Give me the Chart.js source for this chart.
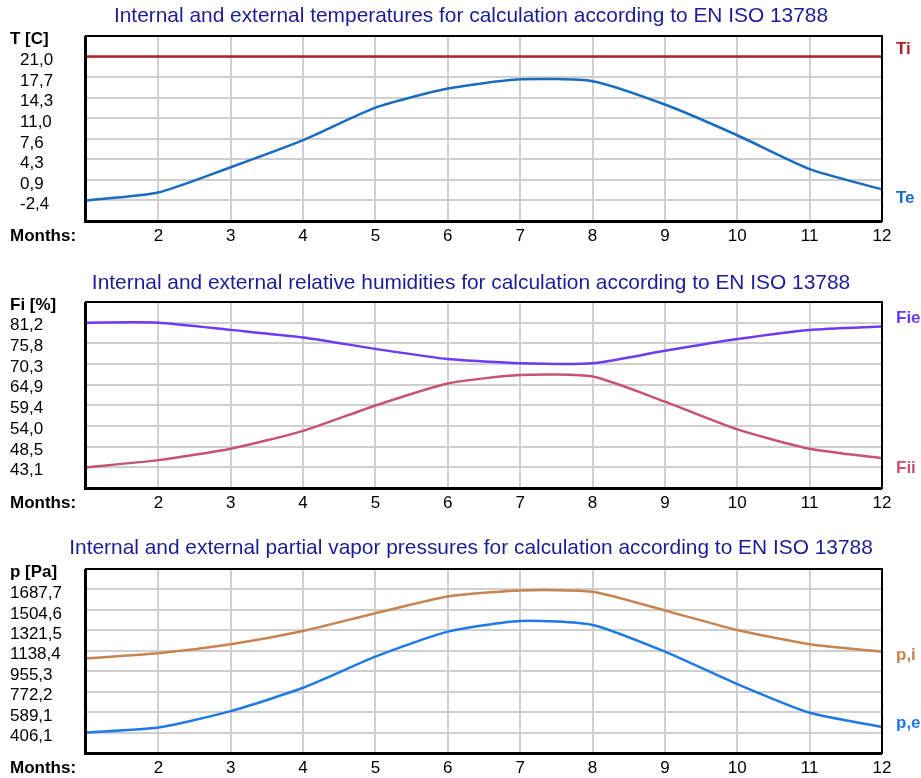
<!DOCTYPE html>
<html>
<head>
<meta charset="utf-8">
<script src="https://cdn.jsdelivr.net/npm/chart.js@4"></script>
<style>
  body { margin: 0; background: #ffffff; }
  .wrap { position: absolute; left: 0; width: 921px; }
  canvas { display: block; }
</style>
</head>
<body>
<div class="wrap" style="top:0px"><canvas id="tempChart" width="921" height="255"></canvas></div>
<div class="wrap" style="top:255px"><canvas id="humChart" width="921" height="265"></canvas></div>
<div class="wrap" style="top:520px"><canvas id="presChart" width="921" height="258"></canvas></div>
<script>
const months = [1, 2, 3, 4, 5, 6, 7, 8, 9, 10, 11, 12];

// temperatures
const tempTicks = [-2.4, 0.9, 4.3, 7.6, 11.0, 14.3, 17.7, 21.0];
const tempTi = [21.0, 21.0, 21.0, 21.0, 21.0, 21.0, 21.0, 21.0, 21.0, 21.0, 21.0, 21.0];
const tempTe = [-2.4, -1.1, 3.0, 7.4, 12.7, 15.8, 17.3, 17.0, 13.2, 8.2, 2.7, -0.6];

// relative humidities
const humTicks = [43.1, 48.5, 54.0, 59.4, 64.9, 70.3, 75.8, 81.2];
const humFie = [81.2, 81.2, 79.3, 77.3, 74.3, 71.6, 70.5, 70.5, 73.8, 76.9, 79.3, 80.2];
const humFii = [43.1, 45.0, 48.0, 52.7, 59.4, 65.2, 67.4, 67.0, 60.4, 53.1, 48.0, 45.5];

// partial vapor pressures
const presTicks = [406.1, 589.1, 772.2, 955.3, 1138.4, 1321.5, 1504.6, 1687.7];
const presPi = [1071, 1116, 1197, 1316, 1475, 1625, 1679, 1667, 1499, 1325, 1197, 1131];
const presPe = [406, 451, 598, 807, 1086, 1310, 1406, 1370, 1131, 840, 583, 457];

const FONT = "'Liberation Sans', Arial, sans-serif";

// draws the frame, the title and the text round the plot
const decorPlugin = {
    id: 'decor',
    afterDraw(chart, args, opts) {
        const ctx = chart.ctx;
        const area = chart.chartArea;
        const y = chart.scales.y;
        ctx.save();

        // sunken frame
        ctx.strokeStyle = '#000000';
        ctx.lineWidth = 2;
        ctx.strokeRect(area.left, area.top, area.right - area.left, area.bottom - area.top);
        ctx.lineWidth = 3;
        ctx.beginPath();
        ctx.moveTo(area.left - 0.5, area.top);
        ctx.lineTo(area.left - 0.5, area.bottom + 0.5);
        ctx.lineTo(area.right, area.bottom + 0.5);
        ctx.stroke();

        ctx.textBaseline = 'middle';
        ctx.fillStyle = '#1c1c96';
        ctx.textAlign = 'center';
        ctx.font = '20.9px ' + FONT;
        ctx.fillText(opts.title, 471, opts.titleY);

        ctx.fillStyle = '#000000';
        ctx.textAlign = 'left';
        ctx.font = 'bold 17px ' + FONT;
        ctx.fillText(opts.yTitle, 10, opts.yTitleY);
        ctx.fillText('Months:', 10, opts.monthsY);

        opts.labels.forEach(function(lab) {
            const data = chart.data.datasets[lab.dataset].data;
            ctx.fillStyle = lab.color;
            ctx.fillText(lab.text, 896, y.getPixelForValue(data[data.length - 1]) + lab.dy);
        });
        ctx.restore();
    }
};

function fmt(v) {
    return v.toFixed(1).replace('.', ',');
}

function makeChart(id, cfg) {
    const ticks = cfg.ticks;
    const step = (ticks[ticks.length - 1] - ticks[0]) / (ticks.length - 1);
    const canvas = document.getElementById(id);

    return new Chart(canvas.getContext('2d'), {
        type: 'line',
        data: {
            labels: months,
            datasets: cfg.series.map(function(s) {
                return {
                    label: s.name,
                    data: s.data,
                    borderColor: s.color,
                    borderWidth: 2.5,
                    pointRadius: 0,
                    fill: false,
                    tension: 0.2
                };
            })
        },
        options: {
            responsive: false,
            animation: false,
            layout: {
                padding: { left: cfg.padLeft, right: 39, top: cfg.plotTop, bottom: 0 }
            },
            plugins: {
                legend: { display: false },
                title: { display: false },
                tooltip: { enabled: false },
                decor: {
                    title: cfg.title,
                    titleY: cfg.titleY,
                    yTitle: cfg.yTitle,
                    yTitleY: cfg.yTitleY,
                    monthsY: cfg.plotBottom + 15,
                    labels: cfg.labels
                }
            },
            scales: {
                x: {
                    type: 'category',
                    offset: false,
                    grid: { color: '#cfcfcf', lineWidth: 2, drawTicks: false },
                    border: { display: false },
                    ticks: {
                        color: '#000000',
                        font: { family: FONT, size: 17 },
                        padding: 5,
                        maxRotation: 0,
                        autoSkip: false,
                        callback: function(value, index) {
                            return index === 0 ? '' : months[index];
                        }
                    },
                    afterFit: function(scale) {
                        scale.height = canvas.height - cfg.plotBottom;
                    }
                },
                y: {
                    min: ticks[0] - step,
                    max: ticks[ticks.length - 1] + step,
                    grid: { color: '#cfcfcf', lineWidth: 2, drawTicks: false },
                    border: { display: false },
                    afterBuildTicks: function(scale) {
                        scale.ticks = ticks.map(function(v) { return { value: v }; });
                    },
                    ticks: {
                        color: '#000000',
                        font: { family: FONT, size: 17 },
                        crossAlign: 'far',
                        labelOffset: cfg.labelOffset,
                        callback: function(value) {
                            return fmt(value);
                        }
                    },
                    afterFit: function(scale) {
                        scale.width = 86 - cfg.padLeft;
                    }
                }
            }
        },
        plugins: [decorPlugin]
    });
}

makeChart('tempChart', {
    title: 'Internal and external temperatures for calculation according to EN ISO 13788',
    titleY: 16,
    yTitle: 'T [C]',
    yTitleY: 39,
    plotTop: 36,
    plotBottom: 221,
    padLeft: 20,
    labelOffset: 4,
    ticks: tempTicks,
    series: [
        { name: 'Ti', data: tempTi, color: '#ad2222' },
        { name: 'Te', data: tempTe, color: '#1a6cc0' }
    ],
    labels: [
        { text: 'Ti', dataset: 0, color: '#ad2222', dy: -7 },
        { text: 'Te', dataset: 1, color: '#1a6cc0', dy: 9 }
    ]
});

makeChart('humChart', {
    title: 'Internal and external relative humidities for calculation according to EN ISO 13788',
    titleY: 28,
    yTitle: 'Fi [%]',
    yTitleY: 50,
    plotTop: 47,
    plotBottom: 233,
    padLeft: 10,
    labelOffset: 3,
    ticks: humTicks,
    series: [
        { name: 'Fie', data: humFie, color: '#6a3cf5' },
        { name: 'Fii', data: humFii, color: '#c65470' }
    ],
    labels: [
        { text: 'Fie', dataset: 0, color: '#6a3cf5', dy: -8 },
        { text: 'Fii', dataset: 1, color: '#c65470', dy: 10 }
    ]
});

makeChart('presChart', {
    title: 'Internal and external partial vapor pressures for calculation according to EN ISO 13788',
    titleY: 28,
    yTitle: 'p [Pa]',
    yTitleY: 52,
    plotTop: 49,
    plotBottom: 233,
    padLeft: 10,
    labelOffset: 4,
    ticks: presTicks,
    series: [
        { name: 'p,i', data: presPi, color: '#c8844f' },
        { name: 'p,e', data: presPe, color: '#1f7ae8' }
    ],
    labels: [
        { text: 'p,i', dataset: 0, color: '#c8844f', dy: 4 },
        { text: 'p,e', dataset: 1, color: '#1f7ae8', dy: -4 }
    ]
});
</script>
</body>
</html>
